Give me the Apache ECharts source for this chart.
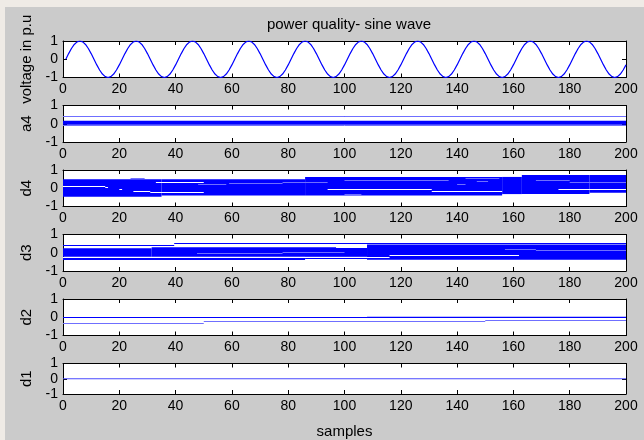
<!DOCTYPE html>
<html><head><meta charset="utf-8">
<script src="https://cdn.jsdelivr.net/npm/echarts@6/dist/echarts.min.js"></script>
<style>
html,body{margin:0;padding:0;background:#efebe6;overflow:hidden;}
#fig{position:absolute;left:5px;top:7px;right:0;bottom:0;background:#cbcbcb;}
#c{position:absolute;left:0;top:0;width:644px;height:440px;}
</style>
</head><body><div id="fig"></div><div id="c"></div>
<script>
// ---------- data ----------
const titleText = 'power quality- sine wave';
const xLabelText = 'samples';
const plotNames = ['voltage in p.u', 'a4', 'd4', 'd3', 'd2', 'd1'];
const xTicks = [0, 20, 40, 60, 80, 100, 120, 140, 160, 180, 200];
const yTicks = [-1, 0, 1];

// sine wave, samples 1..200
const sineValues = [
 0,0.31,0.59,0.81,0.95,1,0.95,0.81,0.59,0.31,0,-0.31,-0.59,-0.81,-0.95,-1,-0.95,-0.81,-0.59,-0.31,
 0,0.31,0.59,0.81,0.95,1,0.95,0.81,0.59,0.31,0,-0.31,-0.59,-0.81,-0.95,-1,-0.95,-0.81,-0.59,-0.31,
 0,0.31,0.59,0.81,0.95,1,0.95,0.81,0.59,0.31,0,-0.31,-0.59,-0.81,-0.95,-1,-0.95,-0.81,-0.59,-0.31,
 0,0.31,0.59,0.81,0.95,1,0.95,0.81,0.59,0.31,0,-0.31,-0.59,-0.81,-0.95,-1,-0.95,-0.81,-0.59,-0.31,
 0,0.31,0.59,0.81,0.95,1,0.95,0.81,0.59,0.31,0,-0.31,-0.59,-0.81,-0.95,-1,-0.95,-0.81,-0.59,-0.31,
 0,0.31,0.59,0.81,0.95,1,0.95,0.81,0.59,0.31,0,-0.31,-0.59,-0.81,-0.95,-1,-0.95,-0.81,-0.59,-0.31,
 0,0.31,0.59,0.81,0.95,1,0.95,0.81,0.59,0.31,0,-0.31,-0.59,-0.81,-0.95,-1,-0.95,-0.81,-0.59,-0.31,
 0,0.31,0.59,0.81,0.95,1,0.95,0.81,0.59,0.31,0,-0.31,-0.59,-0.81,-0.95,-1,-0.95,-0.81,-0.59,-0.31,
 0,0.31,0.59,0.81,0.95,1,0.95,0.81,0.59,0.31,0,-0.31,-0.59,-0.81,-0.95,-1,-0.95,-0.81,-0.59,-0.31,
 0,0.31,0.59,0.81,0.95,1,0.95,0.81,0.59,0.31,0,-0.31,-0.59,-0.81,-0.95,-1,-0.95,-0.81,-0.59,-0.31
];

// coefficient traces: filled bands [xStart, xEnd, low, high], lines [xStart, xEnd, level]
const a4Bands = [[0,200,-0.05,0.17]];
const a4Lines = [[0,200,0.42]];
const a4Light = [[0,200,-0.07],[0,200,0.45]];

const d4Bands = [[0,35,-0.47,0.5],[35,86,-0.4,0.5],[86,156,-0.4,0.62],[156,163,-0.32,0.62],[163,187,-0.32,0.72],[187,200,-0.24,0.72]];
const d4White = [[33,50,0.33],[25,31,-0.13],[31,50,-0.23],[94,131,-0.06],[131,156,-0.15],[176,200,-0.06],[0,15,0.13],[15,16,0.05],[20,21,-0.05]];
const d4Light = [[24,29,0.54],[48,58,0.25],[59,78,0.3],[78,94,0.33],[100,137,0.44],[100,106,-0.29],[140,143,0.25],[143,155,0.54],[147,151,0.38],[168,180,0.44],[180,200,0.35]];

const d3Bands = [[0,31.5,-0.22,0.25],[31.5,108,-0.22,0.3],[0,86,-0.4,-0.28],[86,108,-0.34,-0.22],[108,200,-0.38,0.45]];
const d3Lines = [[0,39.5,0.43],[39.5,200,0.52]];
const d3White = [[0,116,-0.25],[116,162,-0.15],[97,108,0.34]];
const d3Light = [[47.6,78,-0.02],[78,100,0.05],[157,168,0.23],[168,200,0.16]];

const d2Bands = [[108,200,-0.04,0.03]];
const d2Lines = [[0,108,0.02]];
const d2Light = [[0,50,-0.3],[50,150,-0.2],[150,200,-0.15]];

const d1Bands = [[0,200,-0.03,0.03]];

// ---------- chart ----------
const BLUE = '#0000ff', LIGHT = '#6f6fff', WHITE = '#ffffff';
const FONT = 'Liberation Sans, Arial, sans-serif';
const tops = [41, 105.5, 170, 234.5, 299, 363.5];
const H = 36.5;

function bandItem(params, api) {
  const p0 = api.coord([api.value(0), api.value(3)]);
  const p1 = api.coord([api.value(1), api.value(2)]);
  return {type: 'rect', shape: {x: p0[0], y: p0[1], width: p1[0] - p0[0], height: Math.max(1, p1[1] - p0[1])},
          style: {fill: api.visual('color')}};
}
function lineItem(params, api) {
  const p0 = api.coord([api.value(0), api.value(2)]);
  const p1 = api.coord([api.value(1), api.value(2)]);
  const y = Math.round(p0[1]) + 0.5;
  return {type: 'line', shape: {x1: p0[0], y1: y, x2: p1[0], y2: y},
          style: {stroke: api.visual('color'), lineWidth: 1}};
}

const grids = [], xAxes = [], yAxes = [], series = [];
tops.forEach((t, i) => {
  grids.push({left: 63, width: 563, top: t, height: H, show: true, backgroundColor: '#fff', borderWidth: 0});
  const base = {type: 'value', gridIndex: i, min: xTicks[0], max: xTicks[xTicks.length - 1], interval: xTicks[1] - xTicks[0],
    axisLine: {show: true, onZero: false, lineStyle: {color: '#000', width: 1}},
    axisTick: {show: true, inside: true, length: 4, lineStyle: {color: '#000'}},
    splitLine: {show: false}};
  xAxes.push(Object.assign({}, base, {position: 'bottom',
    axisLabel: {show: true, fontSize: 14, color: '#000', fontFamily: FONT, margin: 5},
    name: i === tops.length - 1 ? xLabelText : '', nameLocation: 'middle', nameGap: 30,
    nameTextStyle: {fontSize: 15, color: '#000', fontFamily: FONT}}));
  xAxes.push(Object.assign({}, base, {position: 'top', axisLabel: {show: false}}));
  const ybase = {type: 'value', gridIndex: i, min: yTicks[0], max: yTicks[yTicks.length - 1], interval: yTicks[1] - yTicks[0],
    axisLine: {show: true, onZero: false, lineStyle: {color: '#000', width: 1}},
    axisTick: {show: true, inside: true, length: 4, lineStyle: {color: '#000'}},
    splitLine: {show: false}};
  yAxes.push(Object.assign({}, ybase, {position: 'left',
    axisLabel: {show: true, fontSize: 14, color: '#000', fontFamily: FONT, margin: 5},
    name: plotNames[i], nameLocation: 'middle', nameRotate: 90, nameGap: 26,
    nameTextStyle: {fontSize: 15, color: '#000', fontFamily: FONT}}));
  yAxes.push(Object.assign({}, ybase, {position: 'right', axisLabel: {show: false}}));
});

series.push({type: 'line', xAxisIndex: 0, yAxisIndex: 0, symbol: 'none', clip: true, animation: false,
  lineStyle: {color: BLUE, width: 1.2}, data: sineValues.map((v, k) => [k + 1, v])});

function addBands(plot, data, color) {
  series.push({type: 'custom', xAxisIndex: plot * 2, yAxisIndex: plot * 2, renderItem: bandItem, animation: false,
    encode: {x: [0, 1], y: [2, 3]}, itemStyle: {color: color}, data: data});
}
function addLines(plot, data, color) {
  series.push({type: 'custom', xAxisIndex: plot * 2, yAxisIndex: plot * 2, renderItem: lineItem, animation: false,
    encode: {x: [0, 1], y: 2}, itemStyle: {color: color}, data: data});
}
addBands(1, a4Bands, BLUE); addLines(1, a4Lines, BLUE); addLines(1, a4Light, LIGHT);
addBands(2, d4Bands, BLUE); addLines(2, d4White, WHITE); addLines(2, d4Light, LIGHT);
addBands(3, d3Bands, BLUE); addLines(3, d3Lines, BLUE); addLines(3, d3White, WHITE); addLines(3, d3Light, LIGHT);
addBands(4, d2Bands, BLUE); addLines(4, d2Lines, BLUE); addLines(4, d2Light, LIGHT);
addBands(5, d1Bands, '#4a4aff');

const chart = echarts.init(document.getElementById('c'), null, {renderer: 'canvas'});
chart.setOption({
  animation: false,
  backgroundColor: 'transparent',
  title: {text: titleText, left: 344, top: 12, textAlign: 'center',
    textStyle: {fontSize: 15, fontWeight: 'normal', color: '#000', fontFamily: FONT}},
  grid: grids, xAxis: xAxes, yAxis: yAxes, series: series
});
</script></body></html>
